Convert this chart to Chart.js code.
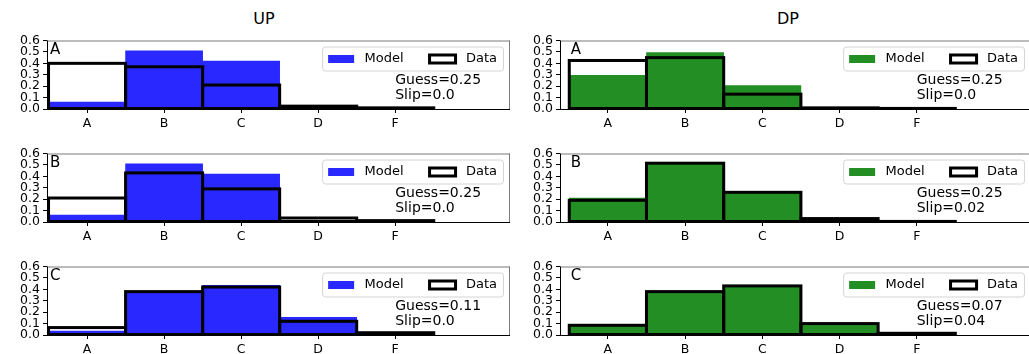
<!DOCTYPE html>
<html>
<head>
<meta charset="utf-8">
<script src="https://cdn.jsdelivr.net/npm/chart.js@4.4.1/dist/chart.umd.min.js"></script>
<style>
  html, body { margin: 0; padding: 0; background: #fff; }
  #fig { position: relative; width: 1029px; height: 354px; overflow: hidden;
         font-family: "DejaVu Sans", sans-serif; }
  .title { position: absolute; top: 9px; font-size: 16px; line-height: 19px;
           transform: translateX(-50%); color: #000; white-space: nowrap; }
  canvas { position: absolute; }
</style>
</head>
<body>
<div id="fig">
  <div class="title" style="left:264px">UP</div>
  <div class="title" style="left:788px">DP</div>
</div>
<script>
// Answer categories and axis ticks
const categories = ['A', 'B', 'C', 'D', 'F'];
const yTickValues = [0.0, 0.1, 0.2, 0.3, 0.4, 0.5, 0.6];
const panelLetters = ['A', 'B', 'C'];

// UP: model-predicted vs observed proportions per category
const upModelA = [0.06, 0.51, 0.42, 0.006, 0.002];
const upDataA  = [0.40, 0.37, 0.21, 0.025, 0.010];
const upModelB = [0.06, 0.51, 0.42, 0.010, 0.002];
const upDataB  = [0.21, 0.43, 0.29, 0.035, 0.012];
const upModelC = [0.035, 0.375, 0.435, 0.155, 0.005];
const upDataC  = [0.065, 0.38, 0.42, 0.12, 0.020];

// DP: model-predicted vs observed proportions per category
const dpModelA = [0.295, 0.495, 0.205, 0.005, 0.001];
const dpDataA  = [0.425, 0.45, 0.13, 0.010, 0.005];
const dpModelB = [0.21, 0.51, 0.255, 0.020, 0.003];
const dpDataB  = [0.19, 0.515, 0.26, 0.030, 0.005];
const dpModelC = [0.075, 0.375, 0.425, 0.090, 0.010];
const dpDataC  = [0.085, 0.38, 0.43, 0.100, 0.015];

// Fitted parameters
const upGuess = ['0.25', '0.25', '0.11'];
const upSlip  = ['0.0', '0.0', '0.0'];
const dpGuess = ['0.25', '0.25', '0.07'];
const dpSlip  = ['0.0', '0.02', '0.04'];

const FONT = 'DejaVu Sans';
const OUTLINE_W = 3;

// Outlined "Data" bars, frame, panel letter, parameter text and legend
const panelDecor = {
  id: 'panelDecor',
  afterDatasetsDraw(chart, args, opts) {
    const { ctx, chartArea: a, scales: { x } } = chart;
    ctx.save();

    // outlines of the observed-data bars, edge centred on the bar boundary
    ctx.beginPath();
    ctx.rect(a.left, a.top, a.right - a.left, a.bottom - a.top + 0.5);
    ctx.clip();
    ctx.lineWidth = OUTLINE_W;
    ctx.strokeStyle = '#000';
    ctx.lineJoin = 'miter';
    chart.getDatasetMeta(1).data.forEach(el => {
      const p = el.getProps(['x', 'y', 'base', 'width'], true);
      ctx.strokeRect(p.x - p.width / 2, p.y, p.width, p.base - p.y);
    });
    ctx.restore();

    ctx.save();
    ctx.lineWidth = 1;
    // spines
    ctx.strokeStyle = '#7a7a7a';
    ctx.beginPath();
    ctx.moveTo(a.left, a.top + 0.5); ctx.lineTo(a.right, a.top + 0.5);
    ctx.moveTo(a.right - 0.5, a.top); ctx.lineTo(a.right - 0.5, a.bottom);
    ctx.stroke();
    ctx.strokeStyle = '#000';
    ctx.beginPath();
    ctx.moveTo(a.left + 0.5, a.top); ctx.lineTo(a.left + 0.5, a.bottom + 0.5);
    ctx.moveTo(a.left, a.bottom + 0.5); ctx.lineTo(a.right, a.bottom + 0.5);
    ctx.stroke();

    ctx.fillStyle = '#000';
    ctx.textBaseline = 'alphabetic';
    ctx.textAlign = 'left';
    // panel letter
    ctx.font = `15px "${FONT}"`;
    ctx.fillText(opts.letter, x.getPixelForValue(-0.48), a.top + 13);
    // parameter text
    ctx.font = `14px "${FONT}"`;
    const tx = x.getPixelForValue(4.0);
    ctx.fillText('Guess=' + opts.guess, tx, a.top + 43);
    ctx.fillText('Slip=' + opts.slip, tx, a.top + 58);

    // legend
    ctx.font = `13px "${FONT}"`;
    const ds = chart.data.datasets;
    const wM = ctx.measureText(ds[0].label).width;
    const wD = ctx.measureText(ds[1].label).width;
    const pad = 6, hl = 26, gap = 10.4, colGap = 26;
    const bw = pad + hl + gap + wM + colGap + hl + gap + wD + pad;
    const bh = 24;
    const bx = a.right - 7 - bw;
    const by = a.top + 6;
    ctx.beginPath();
    ctx.roundRect(bx + 0.5, by + 0.5, bw, bh, 3);
    ctx.fillStyle = 'rgba(255,255,255,0.8)';
    ctx.fill();
    ctx.strokeStyle = '#d4d4d4';
    ctx.stroke();
    const cy = by + bh / 2 + 0.5;
    let cx = bx + pad;
    ctx.fillStyle = ds[0].backgroundColor;
    ctx.fillRect(cx, cy - 4, hl, 8);
    cx += hl + gap;
    ctx.fillStyle = '#000';
    ctx.textBaseline = 'middle';
    ctx.fillText(ds[0].label, cx, cy);
    cx += wM + colGap;
    ctx.fillStyle = '#fff';
    ctx.fillRect(cx, cy - 4, hl, 8);
    ctx.lineWidth = OUTLINE_W;
    ctx.strokeStyle = '#000';
    ctx.strokeRect(cx, cy - 4, hl, 8);
    cx += hl + gap;
    ctx.fillStyle = '#000';
    ctx.fillText(ds[1].label, cx, cy);
    ctx.restore();
  }
};

function tickGrid() {
  return { drawOnChartArea: false, drawTicks: true, tickLength: 4, color: '#000', lineWidth: 1, offset: false };
}

function makePanel(left, top, width, model, data, color, letter, guess, slip, xMin, xMax) {
  const fig = document.getElementById('fig');
  const cv = document.createElement('canvas');
  cv.width = width; cv.height = 104;
  cv.style.left = left + 'px'; cv.style.top = top + 'px';
  cv.style.width = width + 'px'; cv.style.height = '104px';
  fig.appendChild(cv);
  return new Chart(cv, {
    type: 'bar',
    data: {
      datasets: [
        {
          label: 'Model',
          data: model.map((v, i) => ({ x: i, y: v })),
          backgroundColor: color,
          borderWidth: 0,
          grouped: false,
          order: 1,
          barPercentage: 1,
          categoryPercentage: 1
        },
        {
          label: 'Data',
          data: data.map((v, i) => ({ x: i, y: v })),
          backgroundColor: 'rgba(0,0,0,0)',
          borderColor: '#000',
          borderWidth: 0,
          grouped: false,
          order: 0,
          barPercentage: 1,
          categoryPercentage: 1
        }
      ]
    },
    options: {
      responsive: false,
      animation: false,
      devicePixelRatio: 1,
      layout: { padding: { top: 9, right: 10, left: 0, bottom: 0 } },
      plugins: {
        legend: { display: false },
        tooltip: { enabled: false },
        panelDecor: { letter, guess, slip }
      },
      scales: {
        x: {
          type: 'linear',
          offset: false,
          min: xMin, max: xMax,
          afterBuildTicks: s => { s.ticks = categories.map((c, i) => ({ value: i })); },
          afterFit: s => { s.height = 25; },
          grid: tickGrid(),
          border: { display: false },
          ticks: {
            callback: (v, i) => categories[i],
            font: { family: FONT, size: 12.5 },
            color: '#000', padding: 3, maxRotation: 0, autoSkip: false
          }
        },
        y: {
          min: 0, max: 0.6,
          afterBuildTicks: s => { s.ticks = yTickValues.map(v => ({ value: v })); },
          afterFit: s => { s.width = 47; },
          grid: tickGrid(),
          border: { display: false },
          ticks: {
            callback: v => Number(v).toFixed(1),
            font: { family: FONT, size: 12.5 },
            color: '#000', padding: 3, autoSkip: false
          }
        }
      }
    },
    plugins: [panelDecor]
  });
}

const BLUE = '#2828ff';
const GREEN = '#238e23';
const rowTops = [30, 143, 256];
const upModels = [upModelA, upModelB, upModelC];
const upDatas = [upDataA, upDataB, upDataC];
const dpModels = [dpModelA, dpModelB, dpModelC];
const dpDatas = [dpDataA, dpDataB, dpDataC];

rowTops.forEach((t, r) => {
  makePanel(0, t, 520, upModels[r], upDatas[r], BLUE, panelLetters[r], upGuess[r], upSlip[r], -0.52, 5.49);
  makePanel(513, t, 528, dpModels[r], dpDatas[r], GREEN, panelLetters[r], dpGuess[r], dpSlip[r], -0.62, 5.48);
});
</script>
</body>
</html>
